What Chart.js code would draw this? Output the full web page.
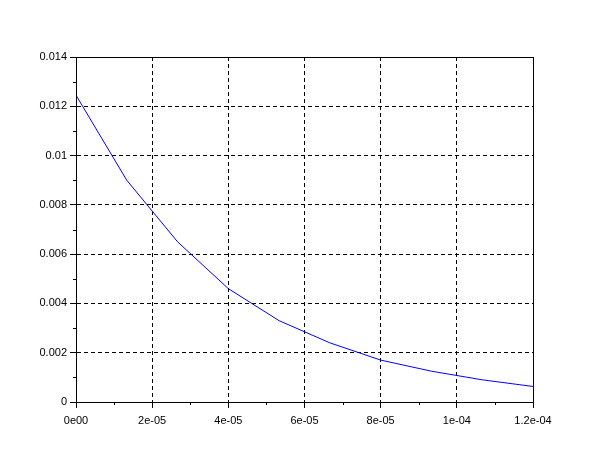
<!DOCTYPE html>
<html>
<head>
<meta charset="utf-8">
<script src="https://cdn.jsdelivr.net/npm/chart.js@4.4.0/dist/chart.umd.min.js"></script>
<style>
  html, body { margin: 0; padding: 0; background: #fff; }
  #wrap { width: 610px; height: 460px; }
</style>
</head>
<body>
<div id="wrap"><canvas id="myChart" width="610" height="460"></canvas></div>
<script>
// time values (s) and the decaying curve
const xValues = [0, 1.333e-5, 2.667e-5, 4.0e-5, 5.333e-5, 6.667e-5, 8.0e-5, 9.333e-5, 1.0667e-4, 1.2e-4];
const yValues = [0.01245, 0.0090, 0.0065, 0.0046, 0.0033, 0.0024, 0.0017, 0.00125, 0.0009, 0.00063];

const xTickLabels = ['0e00', '2e-05', '4e-05', '6e-05', '8e-05', '1e-04', '1.2e-04'];
const yTickLabels = ['0', '0.002', '0.004', '0.006', '0.008', '0.01', '0.012', '0.014'];

const points = xValues.map((x, i) => ({ x: x, y: yValues[i] }));

// box around the plot and small minor ticks between the major ones
const boxPlugin = {
    id: 'boxAndMinor',
    afterDraw(chart) {
        const ctx = chart.ctx;
        const a = chart.chartArea;
        const xs = chart.scales.x;
        const ys = chart.scales.y;
        ctx.save();
        ctx.strokeStyle = '#000';
        ctx.lineWidth = 1;
        ctx.setLineDash([]);
        ctx.strokeRect(Math.round(a.left) + 0.5, Math.round(a.top) + 0.5,
            Math.round(a.right - a.left), Math.round(a.bottom - a.top));
        ctx.beginPath();
        for (let i = 0; i < xTickLabels.length - 1; i++) {
            const px = Math.round(xs.getPixelForValue((i + 0.5) * 2e-5)) + 0.5;
            ctx.moveTo(px, a.bottom);
            ctx.lineTo(px, a.bottom + 3);
        }
        for (let i = 0; i < yTickLabels.length - 1; i++) {
            const py = Math.round(ys.getPixelForValue((i + 0.5) * 0.002)) + 0.5;
            ctx.moveTo(a.left, py);
            ctx.lineTo(a.left - 3, py);
        }
        ctx.stroke();
        ctx.restore();
    }
};

const config = {
    type: 'line',
    data: {
        datasets: [{
            data: points,
            borderColor: '#0000ff',
            borderWidth: 1,
            pointRadius: 0,
            tension: 0,
            fill: false
        }]
    },
    options: {
        responsive: false,
        animation: false,
        layout: { padding: { left: 0, top: 57, right: 77, bottom: 0 } },
        plugins: {
            legend: { display: false },
            tooltip: { enabled: false }
        },
        scales: {
            x: {
                type: 'linear',
                min: 0,
                max: 1.2e-4,
                afterFit: (s) => { s.height = 58; },
                afterBuildTicks: (s) => {
                    s.ticks = xTickLabels.map((t, i) => ({ value: i * 2e-5 }));
                },
                ticks: {
                    color: '#000',
                    font: { family: 'Liberation Sans', size: 11 },
                    padding: 6,
                    maxRotation: 0,
                    callback: (v, i) => xTickLabels[i]
                },
                grid: {
                    color: '#000',
                    lineWidth: 1,
                    drawTicks: true,
                    tickLength: 6,
                    tickColor: '#000',
                    tickBorderDash: []
                },
                border: { display: true, color: '#000', width: 1, dash: [4, 3] }
            },
            y: {
                type: 'linear',
                min: 0,
                max: 0.014,
                afterFit: (s) => { s.width = 76; },
                afterBuildTicks: (s) => {
                    s.ticks = yTickLabels.map((t, i) => ({ value: i * 0.002 }));
                },
                ticks: {
                    color: '#000',
                    font: { family: 'Liberation Sans', size: 11 },
                    padding: 3,
                    callback: (v, i) => yTickLabels[i]
                },
                grid: {
                    color: '#000',
                    lineWidth: 1,
                    drawTicks: true,
                    tickLength: 6,
                    tickColor: '#000',
                    tickBorderDash: []
                },
                border: { display: true, color: '#000', width: 1, dash: [4, 3] }
            }
        }
    },
    plugins: [boxPlugin]
};

var myChart = new Chart(
    document.getElementById('myChart'),
    config
);
</script>
</body>
</html>
